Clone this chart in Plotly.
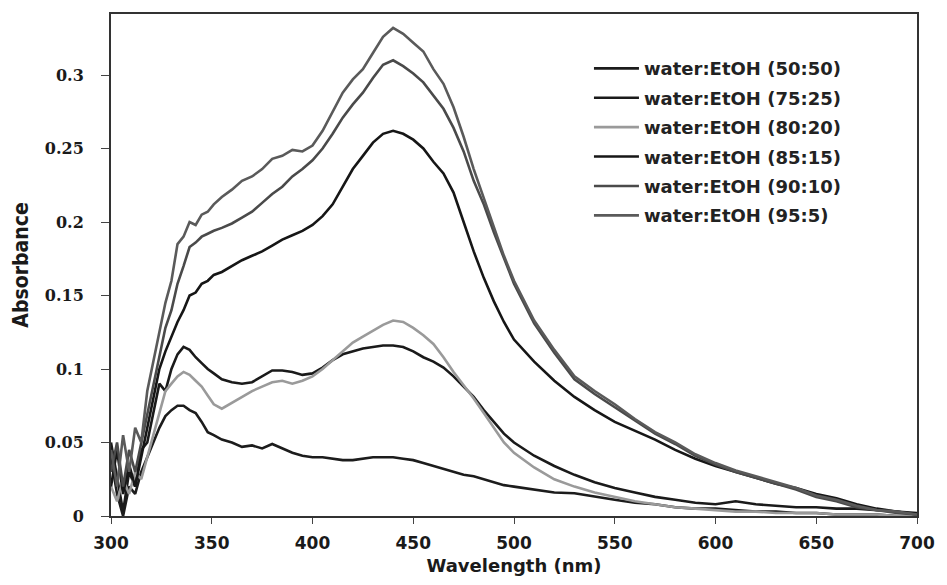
import plotly.graph_objects as go

wavelength = [300, 303, 306, 309, 312, 315, 318, 321, 324, 327, 330, 333, 336, 339, 342, 345, 348, 351,
              355, 360, 365, 370, 375, 380, 385, 390, 395, 400, 405, 410, 415, 420, 425, 430, 435, 440,
              445, 450, 455, 460, 465, 470, 475, 480, 485, 490, 495, 500,
              510, 520, 530, 540, 550, 560, 570, 580, 590, 600, 610, 620, 630, 640, 650, 660, 670, 680, 690, 700]

abs_50_50 = [0.04, 0.015, 0.0, 0.02, 0.015, 0.03, 0.04, 0.05, 0.06, 0.068, 0.072, 0.075, 0.075, 0.072, 0.07, 0.064, 0.057, 0.055,
             0.052, 0.05, 0.047, 0.048, 0.046, 0.049, 0.046, 0.043, 0.041, 0.04, 0.04, 0.039, 0.038, 0.038, 0.039, 0.04, 0.04, 0.04,
             0.039, 0.038, 0.036, 0.034, 0.032, 0.03, 0.028, 0.027, 0.025, 0.023, 0.021, 0.02,
             0.018, 0.016, 0.0155, 0.013, 0.011, 0.009, 0.008, 0.006, 0.005, 0.005, 0.004, 0.003, 0.003, 0.002, 0.002, 0.001, 0.001, 0.001, 0.0, 0.0]

abs_75_25 = [0.05, 0.025, 0.003, 0.03, 0.02, 0.045, 0.05, 0.07, 0.09, 0.085, 0.1, 0.11, 0.115, 0.113, 0.108, 0.104, 0.1, 0.097,
             0.093, 0.091, 0.09, 0.091, 0.095, 0.099, 0.099, 0.098, 0.096, 0.097, 0.101, 0.106, 0.11, 0.112, 0.114, 0.115, 0.116, 0.116,
             0.115, 0.112, 0.108, 0.105, 0.101, 0.095, 0.088, 0.081, 0.072, 0.064, 0.056, 0.05,
             0.041, 0.034, 0.028, 0.023, 0.019, 0.016, 0.013, 0.011, 0.009, 0.008, 0.01, 0.008, 0.007, 0.006, 0.006, 0.005, 0.005, 0.004, 0.003, 0.002]

abs_80_20 = [0.02, 0.01, 0.025, 0.015, 0.03, 0.025, 0.04, 0.055, 0.07, 0.085, 0.09, 0.095, 0.098, 0.096, 0.092, 0.088, 0.082, 0.076,
             0.073, 0.077, 0.081, 0.085, 0.088, 0.091, 0.092, 0.09, 0.092, 0.095, 0.1, 0.106, 0.112, 0.118, 0.122, 0.126, 0.13, 0.133,
             0.132, 0.128, 0.123, 0.117, 0.108, 0.098, 0.089, 0.08, 0.07, 0.06, 0.05, 0.043,
             0.033, 0.025, 0.02, 0.016, 0.013, 0.01, 0.008, 0.006, 0.005, 0.004, 0.003, 0.003, 0.002, 0.002, 0.002, 0.001, 0.001, 0.001, 0.0, 0.0]

abs_85_15 = [0.02, 0.045, 0.015, 0.035, 0.02, 0.04, 0.06, 0.08, 0.1, 0.112, 0.122, 0.132, 0.14, 0.15, 0.152, 0.158, 0.16, 0.164,
             0.166, 0.17, 0.174, 0.177, 0.18, 0.184, 0.188, 0.191, 0.194, 0.198, 0.204, 0.212, 0.224, 0.236, 0.245, 0.254, 0.26, 0.262,
             0.26, 0.256, 0.25, 0.241, 0.233, 0.22, 0.2, 0.18, 0.162, 0.146, 0.132, 0.12,
             0.105, 0.092, 0.081, 0.072, 0.064, 0.058, 0.052, 0.045, 0.039, 0.034, 0.03, 0.026, 0.022, 0.019, 0.015, 0.012, 0.008, 0.005, 0.003, 0.001]

abs_90_10 = [0.03, 0.05, 0.02, 0.045, 0.03, 0.05, 0.07, 0.09, 0.11, 0.128, 0.14, 0.158, 0.17, 0.183, 0.186, 0.19, 0.192, 0.194,
             0.196, 0.199, 0.203, 0.207, 0.213, 0.219, 0.224, 0.231, 0.236, 0.242, 0.25, 0.26, 0.271, 0.28, 0.288, 0.298, 0.307, 0.31,
             0.306, 0.301, 0.295, 0.286, 0.277, 0.264, 0.248, 0.228, 0.212, 0.193, 0.175, 0.158,
             0.131, 0.111, 0.093, 0.083, 0.074, 0.065, 0.056, 0.049, 0.041, 0.035, 0.03, 0.026, 0.022, 0.018, 0.013, 0.01, 0.006, 0.004, 0.002, 0.001]

abs_95_5 = [0.045, 0.02, 0.055, 0.03, 0.06, 0.05, 0.085, 0.105, 0.125, 0.145, 0.16, 0.185, 0.19, 0.2, 0.198, 0.205, 0.207, 0.212,
            0.217, 0.222, 0.228, 0.231, 0.236, 0.243, 0.245, 0.249, 0.248, 0.252, 0.262, 0.275, 0.288, 0.297, 0.304, 0.315, 0.326, 0.332,
            0.328, 0.322, 0.316, 0.304, 0.294, 0.278, 0.258, 0.236, 0.216, 0.196, 0.177, 0.16,
            0.133, 0.113, 0.095, 0.085, 0.076, 0.066, 0.057, 0.05, 0.042, 0.036, 0.031, 0.027, 0.023, 0.019, 0.014, 0.011, 0.007, 0.004, 0.003, 0.001]

series_names = ["water:EtOH (50:50)", "water:EtOH (75:25)", "water:EtOH (80:20)",
                "water:EtOH (85:15)", "water:EtOH (90:10)", "water:EtOH (95:5)"]
series_values = [abs_50_50, abs_75_25, abs_80_20, abs_85_15, abs_90_10, abs_95_5]
series_colors = ["#1c1c1c", "#1a1a1a", "#9a9a9a", "#161616", "#4a4a4a", "#5a5a5a"]

x_ticks = [300, 350, 400, 450, 500, 550, 600, 650, 700]
y_ticks = [0, 0.05, 0.1, 0.15, 0.2, 0.25, 0.3]
y_tick_labels = ["0", "0.05", "0.1", "0.15", "0.2", "0.25", "0.3"]

fig = go.Figure()
for name, vals, col in zip(series_names, series_values, series_colors):
    fig.add_trace(go.Scatter(
        x=wavelength, y=vals, mode="lines", name=name, legendgroup=name,
        line=dict(color=col, width=2.6),
    ))

fig.update_layout(
    width=947, height=585,
    margin=dict(l=111, r=22, t=14, b=69),
    paper_bgcolor="white", plot_bgcolor="white",
    showlegend=True,
    legend=dict(
        x=0.593, y=0.928, xanchor="left", yanchor="top",
        bgcolor="rgba(0,0,0,0)", borderwidth=0,
        font=dict(family="DejaVu Sans", size=18, color="#222", weight="bold"),
        traceorder="grouped", tracegroupgap=3, itemwidth=45,
    ),
    xaxis=dict(
        range=[300, 700], tickmode="array", tickvals=x_ticks,
        ticks="outside", ticklen=6, tickwidth=1.2, tickcolor="#444",
        showline=True, linecolor="#333", linewidth=2, mirror=True,
        showgrid=False, zeroline=False,
        tickfont=dict(family="DejaVu Sans", size=17, color="#1a1a1a", weight="bold"),
        ticklabelstandoff=5,
        title=dict(text="Wavelength (nm)", standoff=7,
                   font=dict(family="DejaVu Sans", size=18, color="#1a1a1a", weight="bold")),
    ),
    yaxis=dict(
        range=[0, 0.3415], tickmode="array", tickvals=y_ticks, ticktext=y_tick_labels,
        ticks="outside", ticklen=8, tickwidth=1.2, tickcolor="#444",
        showline=True, linecolor="#333", linewidth=2, mirror=True,
        showgrid=False, zeroline=False,
        tickfont=dict(family="DejaVu Serif", size=16, color="#1a1a1a", weight="bold"),
        ticklabelstandoff=14,
        title=dict(text="Absorbance", standoff=10,
                   font=dict(family="DejaVu Sans Condensed", size=21, color="#1a1a1a", weight="bold")),
    ),
)

fig.write_html("out.html")
